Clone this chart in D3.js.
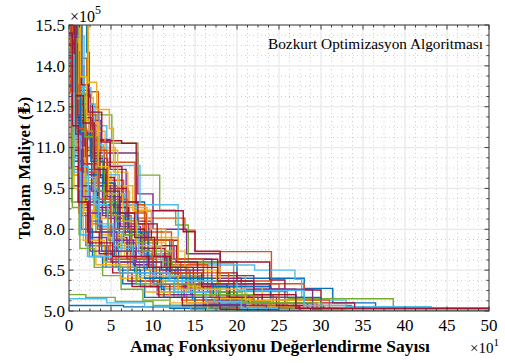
<!DOCTYPE html>
<html><head><meta charset="utf-8">
<script src="https://cdn.jsdelivr.net/npm/d3@7"></script>
<style>
html,body{margin:0;padding:0;background:#fff;}
svg{display:block;}
text{font-family:"Liberation Serif","Times New Roman","DejaVu Serif",serif;fill:#000;}
</style></head>
<body>
<svg id="c" width="505" height="363"></svg>
<script>
// ---- Data (x in units of 10^1 evaluations, y in units of 10^5 ₺) ----
const xTicks = [0,5,10,15,20,25,30,35,40,45,50];
const yTicks = [5.0,6.5,8.0,9.5,11.0,12.5,14.0,15.5];
const xLabel = "Amaç Fonksiyonu Değerlendirme Sayısı";
const yLabel = "Toplam Maliyet (₺)";
const legendText = "Bozkurt Optimizasyon Algoritması";
const colors = ["#0072BD","#D95319","#EDB120","#7E2F8E","#77AC30","#4DBEEE","#A2142F"];
// each run: step pairs [x, bestCost, x, bestCost, ...]
const runs = [
[0,16.5, 2.1,14.5, 2.4,12.5, 3.5,9.0, 9,7.6, 12,6.8, 20,6.2, 28,5.83, 31.4,5.3, 36.5,5.05],
[0,17, 0.3,14.28, 2.1,13.05, 3.5,10.46, 7.86,8.41, 13.8,7.97, 15,7.18, 24.1,6.0, 28,5.2, 33.6,5.07],
[0,19, 0.6,13.0, 2.7,12.82, 2.9,11.0, 5.5,9.4, 7.2,8.0, 11,6.9, 16,6.3, 21,5.6, 25,5.1],
[0,18, 1.5,14.0, 1.8,12.0, 3.8,10.8, 8.2,9.3, 10,8.0, 14,7.1, 18,6.3, 22,5.8, 27,5.06],
[0,16, 2.2,12.2, 5.1,11.16, 8.2,9.99, 10.8,8.7, 12.7,8.16, 14.2,6.76, 19.6,5.71, 26,5.45, 38.6,5.06],
[0,17, 1.2,13.2, 2.6,11.8, 4.5,10.34, 8.45,8.9, 13,6.69, 22.1,6.5, 26.9,6.16, 27.7,5.4, 33,5.16, 43.1,5.05],
[0,18, 0.5,13.7, 1.4,12.93, 2.5,11.25, 6.27,11.16, 8.0,8.68, 13.6,7.91, 15,7.2, 18,6.8, 23.9,6.14, 25.7,5.77, 30,5.3, 34,5.06],
[0,15.0, 0.4,12.0, 1.6,10.2, 3,8.6, 6,7.3, 9.5,6.6, 13,6.0, 21,5.6, 27,5.07],
[0,16, 0.8,12.4, 2,11.0, 4.2,9.8, 6.5,8.9, 9,7.9, 12.2,6.7, 16.5,6.1, 24,5.4, 30,5.08],
[0,17, 1,14.8, 1.3,11.5, 3.6,10.1, 5,8.6, 8,7.5, 11.5,6.4, 15,5.9, 22,5.5, 26,5.05],
[0,16, 0.9,13.1, 2.4,11.3, 4.9,10.2, 6.8,8.2, 9.5,7.4, 12.5,6.9, 17,6.2, 20.5,5.8, 25.7,5.3, 29,5.07],
[0,15.2, 0.5,10.5, 1.8,9.1, 3.2,7.9, 5.9,6.9, 8.4,6.2, 11,5.7, 18,5.4, 22,5.06],
[0,16, 1.6,12.3, 3.6,10.0, 6,8.9, 8,7.3, 11,6.5, 14,5.9, 21,5.6, 25,5.1],
[0,17, 1,12.6, 2.8,10.6, 4.2,9.5, 7,8.3, 9.8,7.6, 13,6.9, 17.7,6.4, 20,6.0, 24,5.5, 28,5.08],
[0,14.0, 0.7,11.2, 2,9.0, 3.5,8.1, 5.4,7.0, 7.8,6.4, 11,5.8, 14.7,5.4, 19,5.1, 26,5.04],
[0,15.5, 0.2,13.0, 1.3,10.9, 3,9.6, 5.8,8.2, 8.8,7.1, 12,6.3, 16,5.9, 24,5.3, 27,5.06],
[0,16, 2.3,13.4, 3.3,12.4, 4.8,11.7, 5.3,10.1, 7,8.8, 9.3,7.7, 13,6.6, 18,5.9, 23,5.4, 30,5.08],
[0,13, 0.3,10.0, 1.2,8.8, 2.5,7.7, 4.5,6.8, 7,6.1, 10.5,5.6, 15,5.2, 21,5.05],
[0,15.8, 1.1,12.0, 2.5,10.7, 4,9.2, 5.5,8.0, 7.5,7.0, 10,6.4, 13.5,5.9, 18,5.5, 25,5.1, 32,5.05],
[0,14.6, 0.6,11.8, 1.8,9.5, 3.3,8.4, 5.6,7.5, 8,6.9, 12.7,6.2, 16,5.6, 23,5.3, 27,5.05],
[0,15.5, 0.8,11.6, 2.2,10.0, 4.3,8.9, 6,7.9, 8.6,7.0, 12,6.3, 15.5,5.7, 19,5.3, 24,5.06],
[0,12.0, 0.4,9.6, 1.5,8.5, 2.6,7.4, 4.4,6.6, 6.4,6.0, 9,5.5, 12,5.2, 17,5.05],
[0,14.5, 1.3,12.7, 1.8,12.1, 2.9,11.4, 3.2,9.7, 5.3,8.5, 7.4,7.6, 10,6.8, 13.3,6.2, 17,5.6, 22,5.3, 29,5.07],
[0,13.5, 0.9,10.8, 2.1,8.9, 3.9,7.8, 6.2,6.9, 9,6.3, 11.5,5.8, 14,5.4, 18,5.1, 24,5.04],
[0,15.0, 0.5,12.4, 1.4,11.4, 3,10.6, 4.6,9.2, 6.1,8.1, 8.5,7.3, 11,6.6, 14,6.0, 17.5,5.5, 22,5.2, 26,5.06],
[0,13.2, 0.7,11.0, 2,9.7, 3.1,8.7, 4.7,7.6, 7,6.8, 9.6,6.1, 12.5,5.5, 16,5.15, 21,5.05],
[0,15.1, 1.8,12.6, 3.1,11.1, 4.1,9.3, 6.6,8.4, 8.3,7.1, 11.2,6.4, 13.5,5.9, 17,5.4, 21,5.1, 28,5.05],
[0,14.3, 0.6,12.0, 1.9,10.4, 3.4,8.8, 5,7.7, 6.9,6.9, 10,6.4, 13,5.9, 16,5.4, 20,5.06],
[0,16, 0.3,13.5, 1.1,11.4, 2.7,10.0, 4,8.9, 5.8,8.0, 7.2,7.2, 9.3,6.5, 12.6,6.1, 16.5,5.7, 20,5.3, 25.5,5.05],
[0,12.5, 0.4,10.2, 1.6,8.9, 3.4,8.0, 4.9,7.2, 7.3,6.5, 9.7,5.9, 13.4,5.4, 18,5.1, 23,5.04],
[0,15, 1.1,12.8, 2.4,11.6, 4.3,10.9, 5.8,9.6, 7.6,8.7, 9.8,8.0, 11.5,7.2, 13.8,6.5, 17.6,5.9, 21,5.4, 26,5.08],
[0,14.1, 0.9,11.9, 1.7,10.1, 2.9,9.0, 4.4,8.4, 6.5,7.5, 8,6.8, 10.4,6.2, 14.5,5.6, 19,5.2, 24,5.05],
[0,11.5, 0.3,9.0, 1.2,7.8, 2.4,7.0, 4,6.3, 6.2,5.8, 8.8,5.4, 12,5.1, 16,5.04],
[0,13.0, 0.8,10.6, 2,9.2, 3.6,8.1, 5.2,7.3, 7.5,6.7, 10.2,6.0, 13,5.5, 17.3,5.2, 23,5.05],
[0,16, 1.5,13.3, 2.3,12.3, 3.9,11.2, 4.9,10.3, 6.3,9.0, 8.2,8.2, 10.5,7.4, 12.8,6.8, 15.3,6.1, 19.6,5.6, 23,5.2, 28,5.06],
[0,5.2, 6.5,5.15, 12,5.1, 20,5.05],
[0,13.8, 0.5,11.3, 1.4,9.4, 2.3,8.2, 3.8,7.4, 5.6,6.6, 8.1,6.1, 10.6,5.6, 14,5.3, 19.3,5.1, 25,5.05],
[0,14, 0.7,11.0, 1.9,9.8, 3,8.4, 4.6,7.7, 6.6,7.0, 8.9,6.5, 11.2,6.0, 15,5.5, 18.5,5.2, 24.5,5.07],
[0,15.5, 0.4,12.7, 1.3,10.4, 2.7,9.4, 4,8.5, 5.4,7.6, 7.7,6.7, 10,6.0, 12,5.6, 16,5.25, 21,5.06],
[0,5.6, 2,5.5, 5.5,5.35, 10,5.2, 15,5.06],
[0,5.45, 4.5,5.3, 9,5.15, 14.5,5.05],
[0,14.8, 1,12.1, 2.6,10.8, 3.7,9.9, 5.4,8.8, 7.1,8.0, 9,7.3, 11.4,6.6, 14.8,6.0, 18.8,5.5, 22.5,5.15, 27.5,5.05],
[0,13.3, 0.5,10.7, 1.2,9.1, 2.4,8.3, 3.9,7.2, 5.9,6.5, 8.5,5.9, 11.3,5.5, 15,5.2, 20,5.05],
[0,16.5, 0.4,13.3, 1.2,12.2, 3.2,10.9, 4.5,9.1, 6.9,8.6, 9.2,7.6, 12.4,6.9, 16,6.1, 19.7,5.6, 24.3,5.3, 29.5,5.06],
[0,12.6, 0.6,10.0, 1.8,8.7, 2.8,7.6, 4.2,6.8, 6.1,6.2, 9.1,5.7, 12,5.3, 16.5,5.06],
[0,15.2, 0.9,12.2, 2,10.7, 3.5,9.6, 4.9,8.6, 6.7,7.8, 9,7.0, 11.6,6.3, 13.9,5.8, 17.8,5.4, 22,5.1, 26.5,5.04],
[0,14.6, 0.6,12.8, 1.5,11.6, 2.9,10.2, 4.2,9.0, 5.6,8.3, 8,7.5, 10.4,6.8, 12.3,6.3, 15.6,5.8, 19.2,5.35, 24,5.08],
[0,13.6, 0.8,11.4, 1.6,9.9, 3.1,8.9, 4.6,7.9, 6.3,7.2, 8.9,6.6, 11.8,6.1, 14.2,5.7, 18,5.3, 22.7,5.06],
[0,12.2, 0.3,10.3, 1.1,9.0, 2.2,7.9, 3.6,7.1, 5.2,6.4, 7.5,5.9, 10.7,5.5, 13.5,5.2, 18,5.06],
[0,15.8, 0.6,12.9, 1.4,11.5, 2.6,10.5, 4.1,9.7, 5.5,8.6, 7,7.9, 9.4,7.0, 11.7,6.5, 14.4,6.0, 17.2,5.6, 21.4,5.3, 28.4,5.08],
[0,13.6, 0.9,11.7, 2.1,10.1, 3.6,9.1, 5,8.0, 7.4,7.2, 9.9,6.6, 12.9,6.0, 16.8,5.5, 21.8,5.2, 26,5.05],
[0,16, 1.4,13.6, 2.1,11.9, 3.5,10.3, 4.7,9.3, 6.4,8.3, 8.1,7.4, 11,6.6, 14.2,5.9, 17.4,5.45, 21.6,5.15, 27,5.06],
[0,13.0, 0.5,10.9, 1.5,9.6, 2.5,8.6, 3.7,7.9, 5.7,7.2, 7.9,6.6, 10.8,6.0, 13.7,5.5, 17.9,5.2, 23.5,5.05],
[0,15, 0.9,13.0, 1.9,11.4, 3.4,9.4, 5.1,8.5, 6.5,7.8, 8.7,7.2, 11.8,6.6, 13.9,6.1, 17.8,5.7, 20.6,5.3, 26.7,5.07],
[0,14.2, 0.4,11.5, 1.3,10.3, 2.3,9.1, 3.5,8.2, 5.3,7.4, 7.6,6.8, 9.6,6.3, 12.6,5.7, 16.3,5.35, 20.5,5.1, 25,5.05],
[0,15.6, 0.7,12.9, 1.7,11.9, 3,10.2, 4.4,9.4, 6,8.6, 7.8,7.7, 10.2,7.0, 12.1,6.4, 15.8,5.9, 19.1,5.5, 24.7,5.2, 30.3,5.06],
[0,14, 0.5,10.5, 1.5,8.0, 2.8,7.0, 4,6.6, 9,6.2, 17,5.9, 24,5.5, 30,5.08],
[0,15, 0.3,11.0, 1.2,8.6, 2,7.4, 4.7,6.9, 10.4,6.4, 19,6.0, 25,5.4, 31,5.06],
[0,13, 0.6,9.5, 1.7,7.6, 3.2,6.7, 7,6.3, 13,5.8, 21,5.4, 28,5.05],
[0,16, 0.8,11.5, 1.6,9.2, 2.5,7.2, 5,6.8, 11,6.5, 16,6.0, 23.9,5.8, 29,5.07],
[0,12.4, 0.4,8.8, 1.3,7.3, 3,6.6, 8,6.0, 15,5.6, 22,5.3, 30,5.05],
[0,14.4, 0.6,10.1, 1.4,7.8, 2.2,7.0, 6,6.4, 12,6.1, 20,5.75, 28,5.2, 33,5.05],
[0,15.2, 0.4,11.8, 1.1,9.0, 2.3,7.5, 5.2,7.0, 9.5,6.6, 17.7,6.1, 22,5.6, 27,5.1]
];

// ---- Layout ----
const L = 69, R = 489, T = 25, B = 311;
const svg = d3.select("#c");
const x = d3.scaleLinear().domain([0,50]).range([L,R]);
const y = d3.scaleLinear().domain([5.0,15.5]).range([B,T]);

const xMinor = d3.range(0, 50.001, 1.25);
const yMinor = d3.range(5.0, 15.501, 0.375);

// grids
const g = svg.append("g");
g.selectAll(".xmn").data(xMinor).enter().append("line")
  .attr("x1",d=>x(d)).attr("x2",d=>x(d)).attr("y1",T).attr("y2",B)
  .attr("stroke","#cfcfcf").attr("stroke-width",1).attr("stroke-dasharray","1,3");
g.selectAll(".ymn").data(yMinor).enter().append("line")
  .attr("y1",d=>y(d)).attr("y2",d=>y(d)).attr("x1",L).attr("x2",R)
  .attr("stroke","#cfcfcf").attr("stroke-width",1).attr("stroke-dasharray","1,3");
g.selectAll(".xmj").data(xTicks).enter().append("line")
  .attr("x1",d=>x(d)).attr("x2",d=>x(d)).attr("y1",T).attr("y2",B)
  .attr("stroke","#ebebeb").attr("stroke-width",1.2);
g.selectAll(".ymj").data(yTicks).enter().append("line")
  .attr("y1",d=>y(d)).attr("y2",d=>y(d)).attr("x1",L).attr("x2",R)
  .attr("stroke","#ebebeb").attr("stroke-width",1.2);

// clip
svg.append("clipPath").attr("id","clip").append("rect")
  .attr("x",L).attr("y",T).attr("width",R-L).attr("height",B-T);

const line = d3.line().x(d=>x(d[0])).y(d=>y(d[1])).curve(d3.curveStepAfter);
const lg = svg.append("g").attr("clip-path","url(#clip)");
runs.forEach((r,i)=>{
  const pts = [];
  for (let k=0;k<r.length;k+=2) pts.push([r[k], r[k+1]]);
  pts.push([50, r[r.length-1]]);
  lg.append("path").attr("d", line(pts)).attr("fill","none")
    .attr("stroke", colors[i % colors.length]).attr("stroke-width",1.4)
    .attr("stroke-linejoin","miter");
});

// axes box with inward ticks
const axCol = "#3c3c3c";
const ax = svg.append("g");
ax.append("rect").attr("x",L).attr("y",T).attr("width",R-L).attr("height",B-T)
  .attr("fill","none").attr("stroke",axCol).attr("stroke-width",1);
const tk = (x1,y1,x2,y2)=>ax.append("line").attr("x1",x1).attr("y1",y1).attr("x2",x2).attr("y2",y2).attr("stroke",axCol).attr("stroke-width",1);
xMinor.forEach(d=>{ const len = xTicks.includes(d)?4.5:2.5; tk(x(d),B,x(d),B-len); tk(x(d),T,x(d),T+len); });
yMinor.forEach(d=>{ const len = yTicks.some(t=>Math.abs(t-d)<1e-6)?4.5:2.5; tk(L,y(d),L+len,y(d)); tk(R,y(d),R-len,y(d)); });

// tick labels
svg.selectAll(".xl").data(xTicks).enter().append("text")
  .attr("x",d=>x(d)).attr("y",331).attr("text-anchor","middle")
  .attr("font-size","17px").text(d=>d);
svg.selectAll(".yl").data(yTicks).enter().append("text")
  .attr("x",65).attr("y",d=>y(d)).attr("dy","0.34em").attr("text-anchor","end")
  .attr("font-size","17px").text(d=>d.toFixed(1));

// exponents
const e1 = svg.append("text").attr("x",70).attr("y",22).attr("font-size","16px");
e1.append("tspan").text("×10");
e1.append("tspan").attr("dy","-8").attr("font-size","12px").text("5");
const e2 = svg.append("text").attr("x",470).attr("y",353).attr("font-size","15px");
e2.append("tspan").text("×10");
e2.append("tspan").attr("dy","-7").attr("font-size","11px").text("1");

// axis labels
svg.append("text").attr("x",280).attr("y",352).attr("text-anchor","middle")
  .attr("font-size","17.5px").attr("font-weight","bold").text(xLabel);
svg.append("text").attr("transform","translate(30,168) rotate(-90)")
  .attr("text-anchor","middle").attr("font-size","17px").attr("font-weight","bold").text(yLabel);

// legend text
svg.append("text").attr("x",483).attr("y",49).attr("text-anchor","end")
  .attr("font-size","15.3px").text(legendText);
</script>
</body></html>
